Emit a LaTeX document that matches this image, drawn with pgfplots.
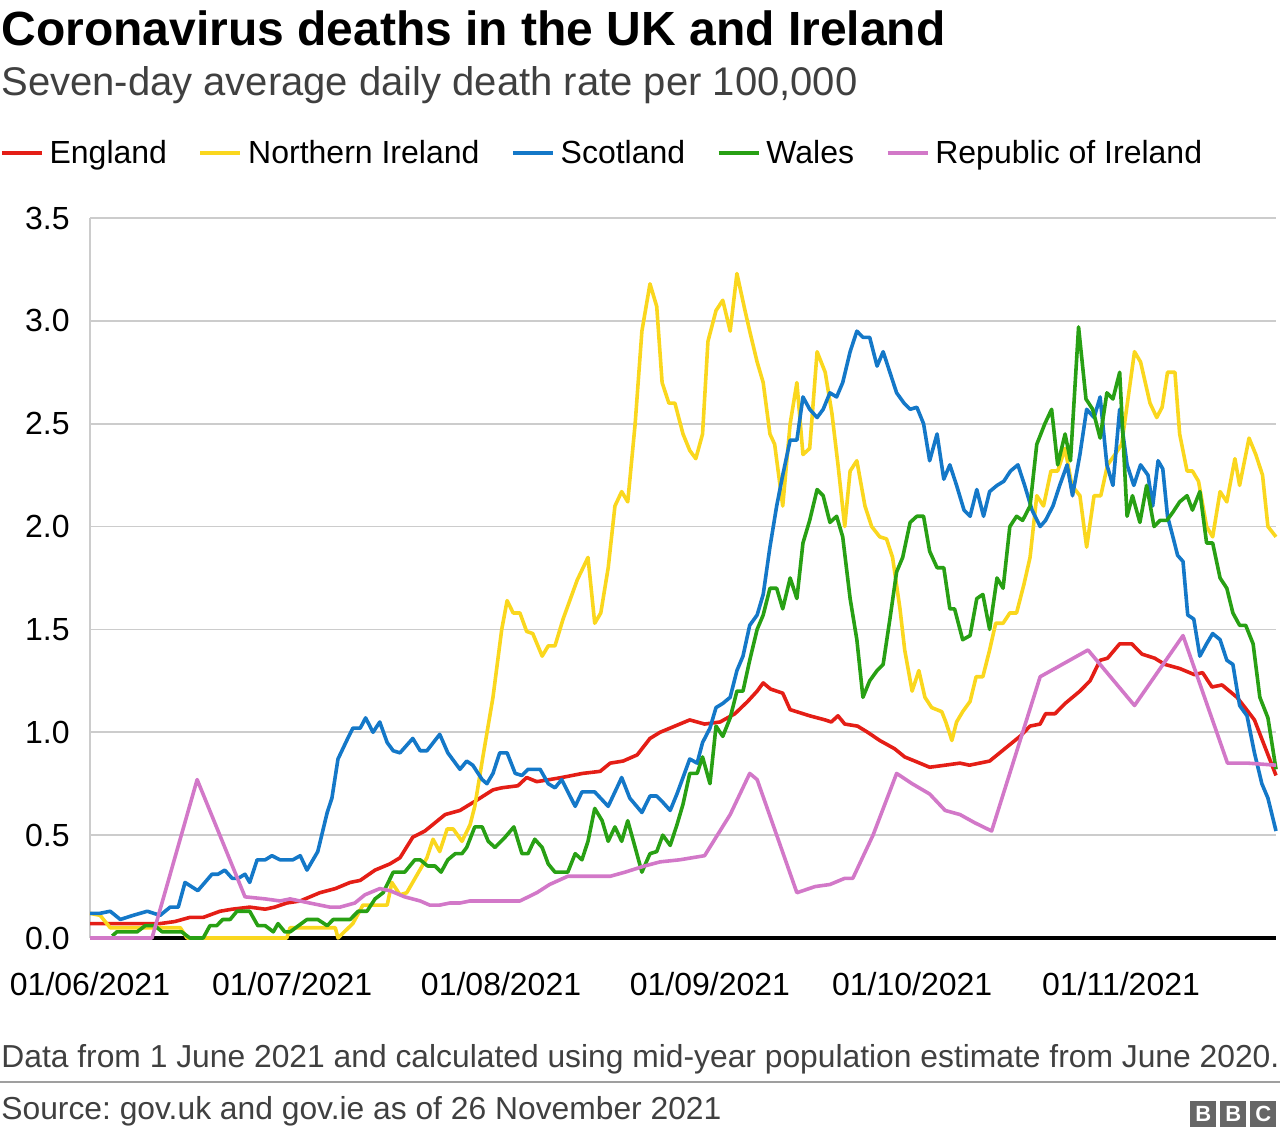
\documentclass[border=0pt]{standalone}
\usepackage{fontspec}
\setmainfont{Liberation Sans}
\usepackage{pgfplots}
\pgfplotsset{compat=1.18}
\definecolor{eng}{RGB}{228,30,22}
\definecolor{ni}{RGB}{250,215,30}
\definecolor{sco}{RGB}{20,120,200}
\definecolor{wal}{RGB}{40,160,20}
\definecolor{roi}{RGB}{210,120,200}
\definecolor{txtgray}{RGB}{64,64,64}
\definecolor{gridgray}{RGB}{204,204,204}
\frenchspacing
\begin{document}
\begin{tikzpicture}[x=1pt,y=1pt]
\path[use as bounding box] (0,0) rectangle (640,569);
\node[anchor=base west,inner sep=0pt,font=\fontsize{24}{28}\selectfont\bfseries] at (0.5,546) {Coronavirus deaths in the UK and Ireland};
\node[anchor=base west,inner sep=0pt,font=\fontsize{20}{24}\selectfont,text=txtgray] at (0.5,521) {Seven-day average daily death rate per 100,000};
\begin{axis}[
  at={(45pt,100pt)}, anchor=south west,
  width=593pt, height=360pt, scale only axis,
  xmin=0, xmax=176, ymin=0, ymax=3.5,
  axis lines*=left,
  x axis line style={black,line width=1.6pt},
  y axis line style={gridgray,line width=0.7pt},
  major tick length=0pt,
  ymajorgrids, grid style={gridgray,line width=0.8pt},
  ytick={0,0.5,1,1.5,2,2.5,3,3.5},
  yticklabels={0.0,0.5,1.0,1.5,2.0,2.5,3.0,3.5},
  xtick={0,30,61,92,122,153},
  xticklabels={01/06/2021,01/07/2021,01/08/2021,01/09/2021,01/10/2021,01/11/2021},
  tick label style={font=\fontsize{16}{19}\selectfont, text=black},
  yticklabel style={anchor=east, inner sep=0pt, xshift=-10pt},
  xticklabel style={anchor=north, inner sep=0pt, yshift=-17pt},
  legend style={at={(0,1)}, anchor=west, xshift=-45pt, yshift=32.5pt,
    draw=none, fill=none, inner sep=0pt, outer sep=0pt,
    font=\fontsize{16}{19}\selectfont,
    nodes={inner sep=0pt, anchor=west},
    /tikz/every odd column/.append style={column sep=3pt},
    /tikz/every even column/.append style={column sep=15.8pt}},
  legend columns=5,
  legend image code/.code={\draw[#1] (0pt,0pt) -- (20pt,0pt);},
  every axis plot/.append style={line width=1.8pt, line join=round, no markers},
  clip=false,
]
\addplot[eng] coordinates {(0,0.07)(10.4,0.07)(12.6,0.08)(14.8,0.10)(16.8,0.10)(19.3,0.13)(21.1,0.14)(23.7,0.15)(26,0.14)(27.4,0.15)(29.2,0.17)(31.2,0.18)(34.1,0.22)(36.4,0.24)(38.6,0.27)(40.1,0.28)(42.3,0.33)(44.5,0.36)(46,0.39)(47.9,0.49)(49.7,0.52)(52.7,0.60)(54.9,0.62)(57.4,0.67)(59.8,0.72)(61.1,0.73)(63.5,0.74)(64.8,0.78)(66.3,0.76)(68.2,0.77)(70,0.78)(73.1,0.80)(75.7,0.81)(77.2,0.85)(79.1,0.86)(81.2,0.89)(83.1,0.97)(84.6,1.00)(86.8,1.03)(89,1.06)(91.2,1.04)(93.5,1.05)(95.7,1.09)(97.6,1.15)(99,1.20)(99.9,1.24)(101,1.21)(102.8,1.19)(103.9,1.11)(106.8,1.08)(109.1,1.06)(110,1.05)(111,1.08)(112,1.04)(113.9,1.03)(115.4,1.00)(117.2,0.96)(119.4,0.92)(120.9,0.88)(122.4,0.86)(124.6,0.83)(126.9,0.84)(129.1,0.85)(130.5,0.84)(132,0.85)(133.5,0.86)(135,0.90)(136.5,0.94)(138,0.98)(139.5,1.03)(141,1.04)(141.8,1.09)(143.2,1.09)(144.7,1.14)(146.9,1.20)(148.4,1.25)(149.9,1.35)(151,1.36)(152.8,1.43)(154.6,1.43)(156.1,1.38)(158,1.36)(159.5,1.33)(161.7,1.31)(163.9,1.28)(165.1,1.29)(166.5,1.22)(168,1.23)(170.2,1.17)(171.4,1.12)(172.8,1.06)(176,0.79)};
\addlegendentry{England}
\addplot[ni] coordinates {(0,0.12)(1.5,0.11)(3,0.05)(7,0.05)(10.4,0.05)(13.4,0.05)(14.4,0.0)(29.2,0.0)(29.7,0.05)(36.4,0.05)(36.8,0.0)(39,0.07)(40.5,0.16)(44.1,0.16)(44.8,0.27)(46,0.21)(47,0.22)(50,0.39)(50.9,0.48)(51.9,0.42)(53,0.53)(53.9,0.53)(55.2,0.47)(56.4,0.55)(57.1,0.64)(58.3,0.88)(59.8,1.17)(61.1,1.50)(61.9,1.64)(62.8,1.58)(63.8,1.58)(64.8,1.49)(65.7,1.48)(67.1,1.37)(68,1.42)(69,1.42)(70.2,1.55)(72.3,1.74)(73.9,1.85)(74.9,1.53)(75.8,1.58)(76.9,1.80)(77.9,2.10)(78.9,2.17)(79.8,2.12)(80.9,2.50)(81.9,2.95)(83.1,3.18)(84.1,3.07)(84.9,2.70)(85.9,2.60)(86.8,2.60)(88,2.45)(89,2.37)(89.9,2.33)(90.9,2.45)(91.7,2.90)(92.9,3.05)(93.9,3.10)(95,2.95)(96,3.23)(97.2,3.05)(97.9,2.95)(99,2.80)(99.9,2.70)(100.9,2.45)(101.6,2.40)(102.8,2.10)(103.9,2.50)(104.9,2.70)(105.8,2.35)(106.8,2.38)(107.9,2.85)(109.1,2.75)(110.1,2.55)(111,2.30)(112,2.00)(112.8,2.27)(113.8,2.32)(115,2.10)(116,2.00)(117.2,1.95)(118.2,1.94)(119.1,1.85)(120.2,1.60)(120.9,1.40)(122,1.20)(123,1.30)(123.9,1.17)(124.9,1.12)(126.4,1.10)(127,1.05)(127.9,0.96)(128.6,1.05)(129.5,1.10)(130.6,1.15)(131.5,1.27)(132.5,1.27)(133.5,1.40)(134.4,1.53)(135.5,1.53)(136.5,1.58)(137.5,1.58)(138.6,1.72)(139.5,1.85)(140.5,2.15)(141.5,2.10)(142.6,2.27)(143.6,2.27)(144.7,2.38)(145.7,2.20)(146.9,2.15)(147.9,1.90)(149,2.15)(150,2.15)(151,2.30)(152.1,2.35)(153.1,2.40)(155,2.85)(155.9,2.80)(157.3,2.60)(158.3,2.53)(159.1,2.58)(159.9,2.75)(161,2.75)(161.7,2.45)(162.8,2.27)(163.6,2.27)(164.5,2.22)(165.7,2.00)(166.6,1.95)(167.7,2.17)(168.7,2.12)(169.9,2.33)(170.6,2.20)(172,2.43)(173,2.35)(174,2.25)(174.8,2.00)(176,1.95)};
\addlegendentry{Northern Ireland}
\addplot[sco] coordinates {(0,0.12)(1.5,0.12)(3,0.13)(4.5,0.09)(6.4,0.11)(8.5,0.13)(10.4,0.11)(11.9,0.15)(13.1,0.15)(14.1,0.27)(16,0.23)(18.1,0.31)(19,0.31)(20,0.33)(21.1,0.29)(22,0.29)(23,0.31)(23.7,0.27)(24.8,0.38)(26,0.38)(27,0.40)(28.2,0.38)(30.1,0.38)(31.2,0.40)(32.2,0.33)(33.8,0.42)(35.2,0.61)(35.9,0.68)(36.8,0.87)(38.1,0.96)(39,1.02)(40.1,1.02)(40.9,1.07)(42,1.00)(43,1.05)(44.1,0.95)(45,0.91)(46,0.90)(47.9,0.97)(49,0.91)(50,0.91)(51.9,0.99)(53.1,0.90)(54.9,0.82)(55.9,0.86)(56.8,0.84)(58.2,0.77)(58.9,0.75)(59.8,0.80)(60.8,0.90)(61.9,0.90)(63.1,0.80)(64.1,0.79)(65,0.82)(66.8,0.82)(68,0.75)(69,0.73)(70,0.77)(72,0.64)(73,0.71)(74.9,0.71)(76.9,0.64)(78.9,0.78)(80.1,0.68)(81.9,0.61)(83.1,0.69)(84.1,0.69)(85,0.66)(86.1,0.62)(87.1,0.70)(88,0.78)(89,0.87)(90.1,0.85)(90.9,0.95)(92,1.02)(92.9,1.12)(93.9,1.14)(95,1.17)(96,1.30)(96.9,1.37)(97.9,1.52)(99,1.57)(99.9,1.67)(100.9,1.90)(101.9,2.10)(102.8,2.25)(103.9,2.42)(104.9,2.42)(105.8,2.63)(106.8,2.57)(107.9,2.53)(108.8,2.57)(109.8,2.65)(110.8,2.63)(111.7,2.70)(112.8,2.85)(113.8,2.95)(114.7,2.92)(115.7,2.92)(116.8,2.78)(117.7,2.85)(118.7,2.75)(119.7,2.65)(120.8,2.60)(121.7,2.57)(122.7,2.58)(123.7,2.50)(124.6,2.32)(125.7,2.45)(126.7,2.23)(127.6,2.30)(128.6,2.20)(129.7,2.08)(130.6,2.05)(131.6,2.18)(132.6,2.05)(133.5,2.17)(134.6,2.20)(135.6,2.22)(136.6,2.27)(137.7,2.30)(138.7,2.20)(139.8,2.08)(141,2.00)(141.8,2.03)(142.9,2.10)(143.9,2.20)(145,2.30)(145.8,2.15)(146.9,2.35)(147.9,2.57)(149,2.53)(149.9,2.63)(150.9,2.30)(151.8,2.20)(152.8,2.57)(153.9,2.30)(154.9,2.20)(155.9,2.30)(157,2.25)(157.7,2.10)(158.5,2.32)(159.2,2.28)(159.9,2.05)(160.7,1.95)(161.4,1.86)(162.2,1.83)(162.9,1.57)(163.8,1.55)(164.7,1.37)(165.7,1.43)(166.6,1.48)(167.7,1.45)(168.7,1.35)(169.6,1.33)(170.6,1.13)(171.7,1.08)(172.8,0.90)(173.9,0.75)(174.8,0.68)(176,0.52)};
\addlegendentry{Scotland}
\addplot[wal] coordinates {(3.3,0.01)(4,0.03)(7,0.03)(8.2,0.06)(9.6,0.06)(10.7,0.03)(13.6,0.03)(14.8,0.0)(16.8,0.0)(17.8,0.06)(18.8,0.06)(19.7,0.09)(20.8,0.09)(21.8,0.13)(23.7,0.13)(24.9,0.06)(26,0.06)(27.2,0.03)(27.9,0.07)(28.9,0.03)(29.7,0.03)(32.2,0.09)(33.8,0.09)(35.2,0.06)(36.1,0.09)(38.6,0.09)(39.8,0.13)(41.1,0.13)(42.3,0.19)(43.5,0.22)(45,0.32)(46.7,0.32)(48.2,0.38)(49,0.38)(50.1,0.35)(51.2,0.35)(52.1,0.32)(53.1,0.38)(54.2,0.41)(55.2,0.41)(55.9,0.44)(57.1,0.54)(58.2,0.54)(59.1,0.47)(60.1,0.44)(61.6,0.49)(62.9,0.54)(64.1,0.41)(65,0.41)(66,0.48)(67.1,0.44)(68,0.36)(69,0.32)(70.9,0.32)(72,0.41)(73,0.38)(73.9,0.47)(74.9,0.63)(76,0.57)(76.9,0.47)(77.9,0.54)(78.9,0.47)(79.8,0.57)(80.9,0.44)(81.9,0.32)(83.1,0.41)(84.1,0.42)(85,0.50)(86.1,0.45)(87.1,0.55)(88,0.65)(89,0.80)(90.1,0.80)(90.9,0.88)(92,0.75)(92.9,1.03)(93.9,0.98)(95,1.07)(96,1.20)(96.9,1.20)(97.9,1.35)(99,1.50)(99.9,1.57)(100.9,1.70)(101.9,1.70)(102.8,1.60)(103.9,1.75)(104.9,1.65)(105.8,1.92)(106.8,2.03)(107.9,2.18)(108.8,2.15)(109.8,2.02)(110.8,2.05)(111.7,1.95)(112.8,1.65)(113.8,1.45)(114.7,1.17)(115.7,1.25)(116.8,1.30)(117.7,1.33)(118.7,1.55)(119.7,1.78)(120.6,1.85)(121.7,2.02)(122.7,2.05)(123.7,2.05)(124.6,1.88)(125.7,1.80)(126.7,1.80)(127.6,1.60)(128.3,1.60)(129.5,1.45)(130.6,1.47)(131.6,1.65)(132.5,1.67)(133.5,1.50)(134.6,1.75)(135.5,1.70)(136.5,2.00)(137.5,2.05)(138.4,2.03)(139.5,2.10)(140.5,2.40)(141.7,2.50)(142.7,2.57)(143.6,2.30)(144.7,2.45)(145.5,2.32)(146.7,2.97)(147.8,2.62)(148.8,2.57)(149.9,2.43)(150.9,2.65)(151.8,2.62)(152.8,2.75)(153.9,2.05)(154.7,2.15)(155.8,2.02)(156.8,2.20)(157.9,2.00)(158.8,2.03)(159.8,2.03)(160.7,2.07)(161.7,2.12)(162.8,2.15)(163.6,2.08)(164.7,2.17)(165.7,1.92)(166.6,1.92)(167.7,1.75)(168.7,1.70)(169.6,1.58)(170.6,1.52)(171.5,1.52)(172.6,1.43)(173.6,1.17)(174.8,1.07)(176,0.82)};
\addlegendentry{Wales}
\addplot[roi] coordinates {(0,0)(9.2,0)(15.9,0.77)(23,0.20)(26,0.19)(28.2,0.18)(29.7,0.19)(32.6,0.17)(35.6,0.15)(37.1,0.15)(39.3,0.17)(40.8,0.21)(43,0.24)(44.5,0.23)(46.7,0.20)(49,0.18)(50.4,0.16)(51.9,0.16)(53.4,0.17)(54.9,0.17)(56.4,0.18)(63.8,0.18)(66.3,0.22)(68.2,0.26)(70.9,0.30)(77.2,0.30)(79.4,0.32)(82.3,0.35)(84.6,0.37)(87.5,0.38)(91.2,0.40)(95,0.60)(97.9,0.80)(99,0.77)(101.9,0.50)(104.9,0.22)(107.6,0.25)(109.8,0.26)(112,0.29)(113.2,0.29)(116.2,0.50)(119.7,0.80)(122,0.75)(124.6,0.70)(126.9,0.62)(129.1,0.60)(131.3,0.56)(133.8,0.52)(141,1.27)(148.1,1.40)(155,1.13)(162.2,1.47)(168.8,0.85)(171.8,0.85)(176,0.84)};
\addlegendentry{Republic of Ireland}
\end{axis}
\node[anchor=base west,inner sep=0pt,font=\fontsize{15.9}{19}\selectfont,text=txtgray] at (0.5,35) {Data from 1 June 2021 and calculated using mid-year population estimate from June 2020.};
\draw[gray!75,line width=1pt] (0,28) -- (640,28);
\node[anchor=base west,inner sep=0pt,font=\fontsize{15.9}{19}\selectfont,text=txtgray] at (0.5,9) {Source: gov.uk and gov.ie as of 26 November 2021};
\foreach \i/\l in {0/B,1/B,2/C}{
  \node[fill=gray!80!black,text=white,font=\fontsize{11}{11}\selectfont\bfseries,minimum width=13pt,minimum height=13pt,inner sep=0pt,anchor=south west] at (595+\i*15,5.5) {\l};
}
\end{tikzpicture}
\end{document}
